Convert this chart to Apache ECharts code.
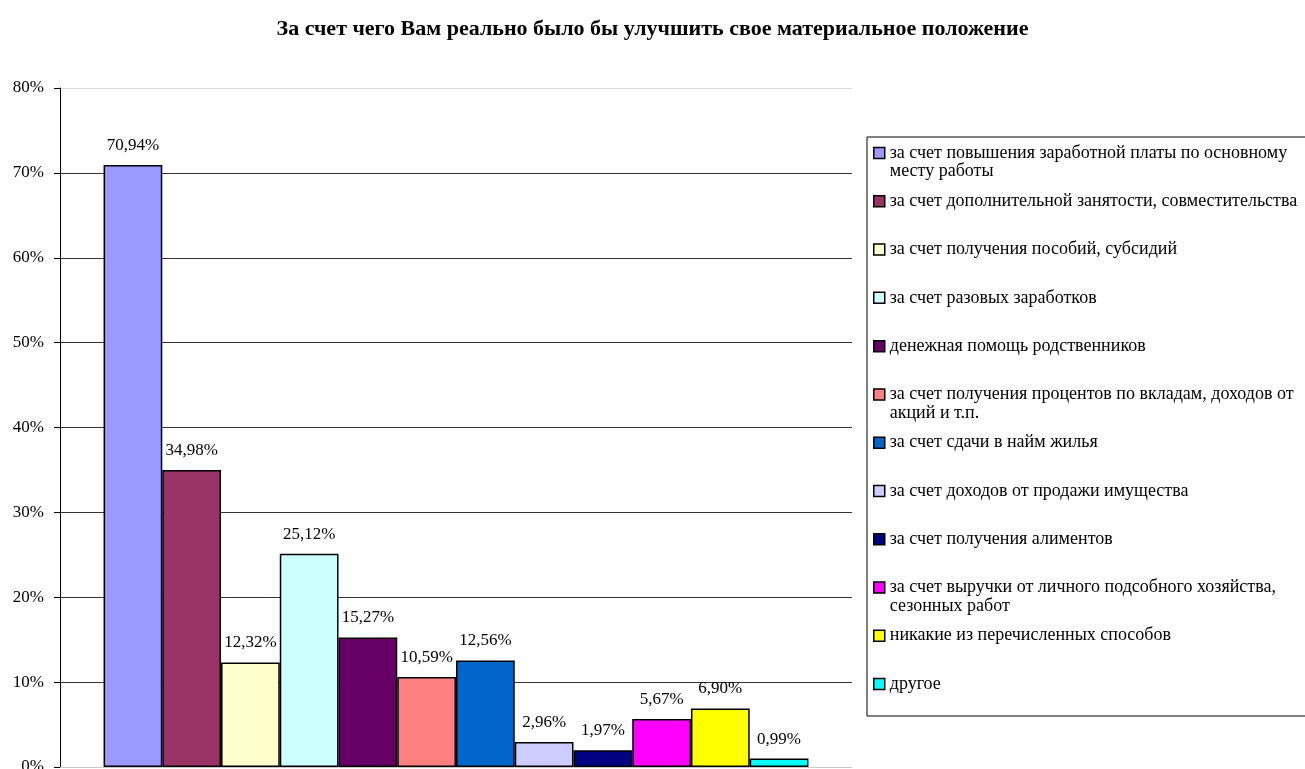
<!DOCTYPE html>
<html>
<head>
<meta charset="utf-8">
<script src="https://cdn.jsdelivr.net/npm/echarts@6/dist/echarts.min.js"></script>
<style>
  html, body { margin: 0; padding: 0; background: #fff; }
  #chart { width: 1305px; height: 769px; }
</style>
</head>
<body>
<div id="chart"></div>
<script>
var titleText = 'За счет чего Вам реально было бы улучшить свое материальное положение';

var seriesNames = [
  'за счет повышения заработной платы по основному месту работы',
  'за счет дополнительной занятости, совместительства',
  'за счет получения пособий, субсидий',
  'за счет разовых заработков',
  'денежная помощь родственников',
  'за счет получения процентов по вкладам, доходов от акций и т.п.',
  'за счет сдачи в найм жилья',
  'за счет доходов от продажи имущества',
  'за счет получения алиментов',
  'за счет выручки от личного подсобного хозяйства, сезонных работ',
  'никакие из перечисленных способов',
  'другое'
];

var seriesValues = [70.94, 34.98, 12.32, 25.12, 15.27, 10.59, 12.56, 2.96, 1.97, 5.67, 6.90, 0.99];

var barColors = ['#9999FF', '#993366', '#FFFFCC', '#CCFFFF', '#660066', '#FF8080',
                 '#0066CC', '#CCCCFF', '#000080', '#FF00FF', '#FFFF00', '#00FFFF'];

var font = 'Liberation Serif';
var legendFontSize = 18;
var legendLine = 18.5;
var legendWrapWidth = 425;

// break legend names into lines the way the legend box does
var measureCtx = document.createElement('canvas').getContext('2d');
measureCtx.font = legendFontSize + 'px "' + font + '"';
function wrapName(name) {
  var words = name.split(' ');
  var lines = [];
  var cur = '';
  words.forEach(function (w) {
    var test = cur ? cur + ' ' + w : w;
    if (cur && measureCtx.measureText(test).width > legendWrapWidth) {
      lines.push(cur);
      cur = w;
    } else {
      cur = test;
    }
  });
  lines.push(cur);
  return lines;
}
var wrappedNames = {};
seriesNames.forEach(function (n) { wrappedNames[n] = wrapName(n); });

var chart = echarts.init(document.getElementById('chart'));

var series = seriesNames.map(function (name, i) {
  return {
    name: name,
    type: 'bar',
    barGap: '0%',
    barCategoryGap: '11%',
    itemStyle: { color: barColors[i], borderColor: '#000', borderWidth: 1.5 },
    label: {
      show: true,
      position: 'top',
      distance: 11,
      fontFamily: font,
      fontSize: 17,
      color: '#000',
      formatter: function (p) { return p.value.toFixed(2).replace('.', ',') + '%'; }
    },
    data: [seriesValues[i]]
  };
});

// every legend entry is three line-heights tall so rows keep an even pitch;
// two-line entries get an empty first line so their first line sits on the icon
var legendData = seriesNames.map(function (name) {
  var two = wrappedNames[name].length > 1;
  return {
    name: name,
    textStyle: { padding: two ? 0 : [legendLine, 0, legendLine, 0] }
  };
});

var option = {
  animation: false,
  title: {
    text: titleText,
    left: 'center',
    top: 13,
    textStyle: { fontFamily: font, fontSize: 22, fontWeight: 'bold', color: '#000' }
  },
  legend: {
    orient: 'vertical',
    left: 873,
    top: 125.3,
    padding: 0,
    itemGap: 48.27 - 3 * legendLine,
    itemWidth: 11,
    itemHeight: 11,
    icon: 'rect',
    itemStyle: { borderColor: '#000', borderWidth: 1.5 },
    textStyle: {
      fontFamily: font,
      fontSize: legendFontSize,
      color: '#000',
      lineHeight: legendLine,
      backgroundColor: 'rgba(255,255,255,0)'
    },
    formatter: function (name) {
      var lines = wrappedNames[name];
      return lines.length > 1 ? ' \n' + lines.join('\n') : lines[0];
    },
    selectedMode: false,
    data: legendData
  },
  graphic: [{
    type: 'rect',
    shape: { x: 867, y: 137, width: 460, height: 579 },
    style: { fill: 'none', stroke: '#000', lineWidth: 1 }
  }],
  grid: { left: 60, right: 453, top: 88, bottom: 2, containLabel: false, outerBoundsMode: 'none' },
  xAxis: {
    type: 'category',
    data: [''],
    axisLine: { lineStyle: { color: '#c8c8c8' } },
    axisTick: { show: false },
    axisLabel: { show: false }
  },
  yAxis: {
    type: 'value',
    min: 0,
    max: 80,
    interval: 10,
    axisLine: { show: true, lineStyle: { color: '#000' } },
    axisTick: { show: true, length: 6, lineStyle: { color: '#000' } },
    axisLabel: {
      margin: 16,
      fontFamily: font,
      fontSize: 17,
      color: '#000',
      formatter: '{value}%'
    },
    splitLine: {
      lineStyle: {
        color: ['#c8c8c8', '#333', '#333', '#333', '#333', '#333', '#333', '#333', '#d9d9d9']
      }
    }
  },
  series: series
};

chart.setOption(option);
</script>
</body>
</html>
